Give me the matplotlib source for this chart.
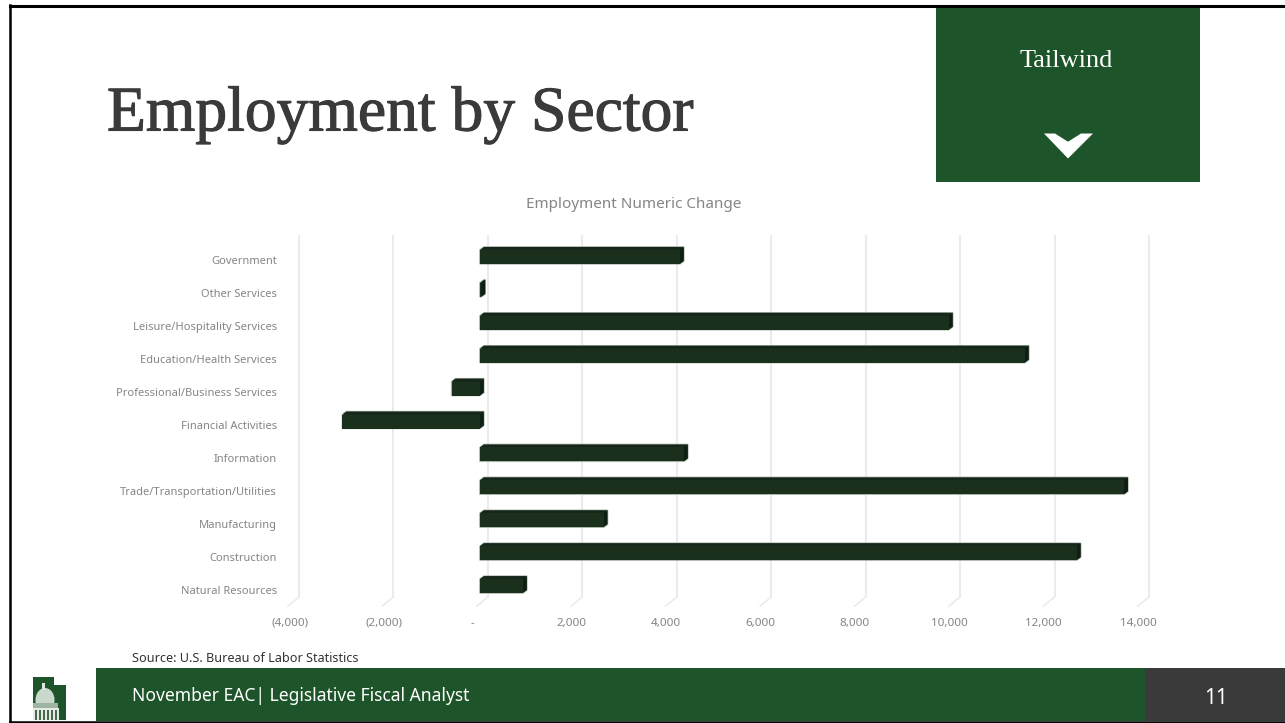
import matplotlib
matplotlib.use("Agg")
import matplotlib.pyplot as plt
import matplotlib.patheffects as pe
from matplotlib.patches import Rectangle, Polygon, Ellipse
from matplotlib.transforms import Affine2D

W, H = 1285, 723

sectors = ["Natural Resources", "Construction", "Manufacturing", "Trade/Transportation/Utilities",
           "Information", "Financial Activities", "Professional/Business Services",
           "Education/Health Services", "Leisure/Hospitality Services", "Other Services", "Government"]
change = [911, 12640, 2620, 13640, 4320, -2912, -600, 11540, 9930, 30, 4235]
tick_values = [-4000, -2000, 0, 2000, 4000, 6000, 8000, 10000, 12000, 14000]
tick_labels = ["(4,000)", "(2,000)", "-", "2,000", "4,000", "6,000", "8,000", "10,000", "12,000", "14,000"]

GREEN = "#1e5429"
DARK = "#3a3a3a"
LABEL = "#858585"
GRID = "#ebebeb"
SANS = "Noto Sans"
SERIF = "Liberation Serif"

fig = plt.figure(figsize=(W / 100, H / 100), dpi=100, facecolor="white")

# slide furniture, in pixel coordinates
slide = fig.add_axes([0, 0, 1, 1])
slide.set_xlim(0, W)
slide.set_ylim(H, 0)
slide.axis("off")

slide.add_patch(Rectangle((936, 6), 264, 176, color=GREEN, lw=0))
slide.add_patch(Rectangle((96, 668), 1049, 53, color=GREEN, lw=0))
slide.add_patch(Rectangle((1145, 668), 140, 53, color=DARK, lw=0))
slide.add_patch(Polygon([(1044, 133.5), (1055, 133.5), (1068, 141.7), (1081, 133.5), (1093, 133.5), (1068, 158.5)],
                        color="white", lw=0))

# frame lines
slide.plot([9.5, 9.5], [5, 722], color="black", lw=1.8)
slide.plot([9.5, W], [5.5, 5.5], color="black", lw=2.2)
slide.plot([9.5, W], [722, 722], color="black", lw=1.8)

# capitol logo
slide.add_patch(Polygon([(33, 677), (54, 677), (54, 685), (66, 685), (66, 720), (33, 720)], color=GREEN, lw=0))
slide.add_patch(Ellipse((45, 700), 19, 24, color="#c9d8cb", lw=0))
slide.add_patch(Rectangle((42, 683), 3, 7, color="#dfe8e0", lw=0))
slide.add_patch(Rectangle((33, 703), 25, 5, color="#9fb3a3", lw=0))
slide.add_patch(Rectangle((33, 708), 26, 12, color="#e3ebe4", lw=0))
for col_x in range(35, 58, 4):
    slide.add_patch(Rectangle((col_x, 710), 1.6, 10, color="#47694f", lw=0))

title = slide.text(107, 130.5, "Employment by Sector", family=SERIF, fontsize=45.8, color=DARK, va="baseline")
title.set_path_effects([pe.withStroke(linewidth=0.8, foreground=DARK)])
slide.text(1066, 61, "Tailwind", family=SERIF, fontsize=19, color="white", ha="center", va="center")
slide.text(634, 205, "Employment Numeric Change", family=SANS, fontsize=11, color=LABEL, ha="center", va="center")
slide.text(132, 659, "Source: U.S. Bureau of Labor Statistics", family=SANS, fontsize=9.1, color="#333333", va="center")
slide.text(132, 696, "November EAC| Legislative Fiscal Analyst", family=SANS, fontsize=12.6, color="white", va="center")
slide.text(1216, 698, "11", family=SANS, fontsize=15, color="white", ha="center", va="center")

# chart axes: this box is the front plane of the 3D plot
left, right, top, bottom = 288, 1138, 244, 606
ax = fig.add_axes([left / W, 1 - bottom / H, (right - left) / W, (bottom - top) / H])
ax.patch.set_alpha(0)
ax.set_xlim(tick_values[0], tick_values[-1])
ax.set_ylim(-0.5, len(sectors) - 0.5)
for spine in ax.spines.values():
    spine.set_visible(False)

px_x = (tick_values[-1] - tick_values[0]) / (right - left)
px_y = len(sectors) / (bottom - top)


def shifted(dx, dy):
    return ax.transData + Affine2D().translate(dx, dy)


# back wall gridlines and their floor segments
ax.vlines(tick_values, -0.5, len(sectors) - 0.5, color=GRID, lw=1.5, transform=shifted(11, 9), clip_on=False)
for t in tick_values:
    ax.plot([t, t + 11 * px_x], [-0.5, -0.5 + 9 * px_y], color=GRID, lw=1.2, clip_on=False)

# bars: soft outline underneath, then front, top and end faces
bar_shift = shifted(3, 3.5)
depth_x, depth_y = 4 * px_x, 3 * px_y
half = 7 * px_y
for i, v in enumerate(change):
    x0, x1 = min(0, v), max(0, v)
    y0, y1 = i - half, i + half
    ax.add_patch(Polygon([(x0, y0), (x1, y0), (x1 + depth_x, y0 + depth_y), (x1 + depth_x, y1 + depth_y),
                          (x0 + depth_x, y1 + depth_y), (x0, y1)],
                         facecolor="#1a301c", edgecolor="#aab5aa", lw=1.0, transform=bar_shift, zorder=3, clip_on=False))
    ax.add_patch(Polygon([(x0, y1), (x1, y1), (x1 + depth_x, y1 + depth_y), (x0 + depth_x, y1 + depth_y)],
                         facecolor="#15271a", lw=0, transform=bar_shift, zorder=4, clip_on=False))
    ax.add_patch(Polygon([(x1, y0), (x1 + depth_x, y0 + depth_y), (x1 + depth_x, y1 + depth_y), (x1, y1)],
                         facecolor="#0f1e12", lw=0, transform=bar_shift, zorder=4, clip_on=False))
ax.barh(range(len(sectors)), change, height=14 * px_y, color="#1a301c", lw=0,
        transform=bar_shift, zorder=5, clip_on=False)

ax.set_xlim(tick_values[0], tick_values[-1])
ax.set_ylim(-0.5, len(sectors) - 0.5)
ax.set_yticks(range(len(sectors)), sectors, family=SANS, fontsize=8, color=LABEL)
ax.set_xticks(tick_values, tick_labels, family=SANS, fontsize=8.4, color=LABEL)
ax.tick_params(axis="both", length=0)
ax.tick_params(axis="y", pad=8)
ax.tick_params(axis="x", pad=8.5)

# accounting-format labels sit a little off their ticks
for label, v in zip(ax.get_xticklabels(), tick_values):
    if v < 0:
        label.set_transform(label.get_transform() + Affine2D().translate(2, 0))
    elif v == 0:
        label.set_transform(label.get_transform() + Affine2D().translate(-4, 0))

fig.savefig("out.png", dpi=100)
